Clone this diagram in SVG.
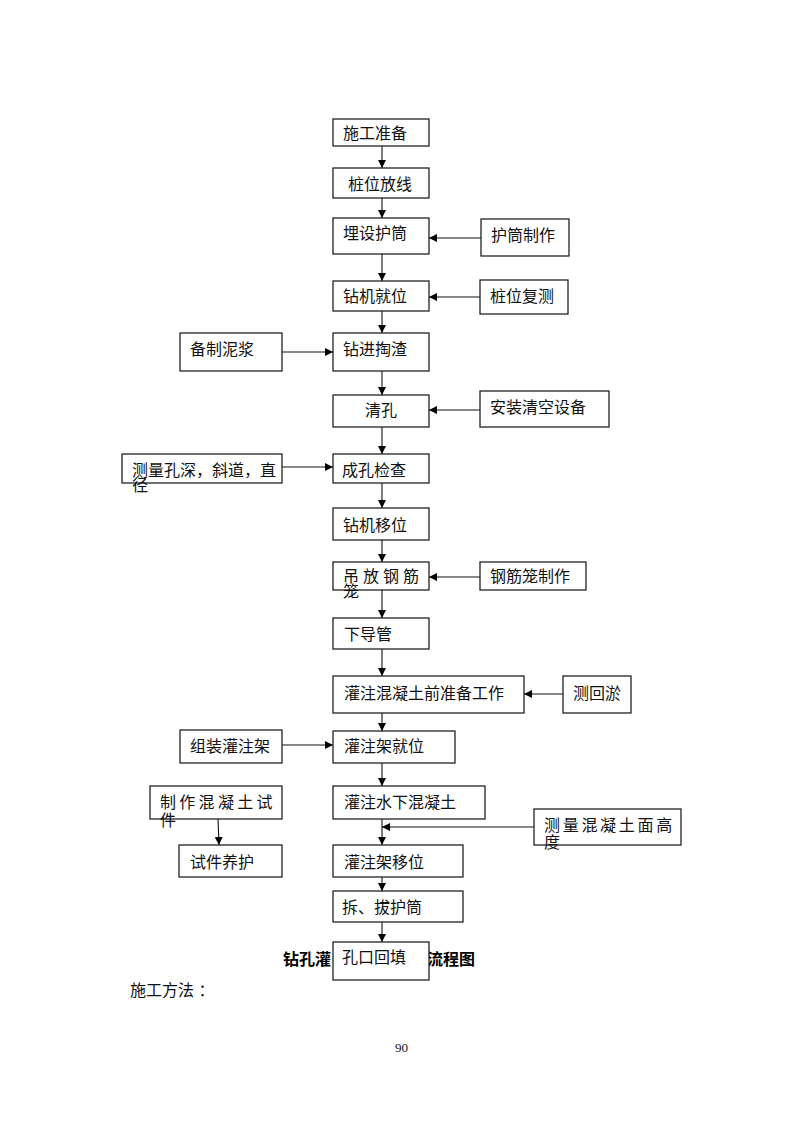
<svg xmlns="http://www.w3.org/2000/svg" width="800" height="1132" viewBox="0 0 800 1132">
<style>
.b{fill:#fff;stroke:#222;stroke-width:1.3}
.t{font-family:"Liberation Sans","Noto Sans CJK SC",sans-serif;font-size:16px;fill:#111}
.c{stroke:#111;stroke-width:1.1;fill:none;marker-end:url(#ah)}
.title{font-family:"Liberation Sans","Noto Sans CJK SC",sans-serif;font-size:16px;font-weight:bold;fill:#000}
</style>
<defs>
<marker id="ah" markerUnits="userSpaceOnUse" markerWidth="8" markerHeight="8" refX="8" refY="4" orient="auto">
<path d="M0,0 L8,4 L0,8 z" fill="#000"/>
</marker>
</defs>
<rect width="800" height="1132" fill="#fff"/>
<text class="title" x="283" y="965">钻孔灌</text>
<text class="title" x="427" y="965">流程图</text>
<text class="t" x="130" y="996">施工方法 ：</text>
<text x="395" y="1052" font-family="Liberation Serif,serif" font-size="13" fill="#111">90</text>
<g id="connectors">
<line class="c" x1="382" y1="146" x2="382" y2="168"/>
<line class="c" x1="382" y1="198" x2="382" y2="218"/>
<line class="c" x1="382" y1="254" x2="382" y2="281"/>
<line class="c" x1="382" y1="311" x2="382" y2="333"/>
<line class="c" x1="382" y1="371" x2="382" y2="395"/>
<line class="c" x1="382" y1="427" x2="382" y2="454"/>
<line class="c" x1="382" y1="483" x2="382" y2="508"/>
<line class="c" x1="382" y1="540" x2="382" y2="562"/>
<line class="c" x1="382" y1="590" x2="382" y2="618"/>
<line class="c" x1="382" y1="649" x2="382" y2="676"/>
<line class="c" x1="382" y1="713" x2="382" y2="731"/>
<line class="c" x1="382" y1="763" x2="382" y2="786"/>
<line class="c" x1="382" y1="819" x2="382" y2="845"/>
<line class="c" x1="382" y1="877" x2="382" y2="891"/>
<line class="c" x1="382" y1="922" x2="382" y2="942"/>
<line class="c" x1="481" y1="238" x2="429" y2="238"/>
<line class="c" x1="480" y1="297" x2="429" y2="297"/>
<line class="c" x1="282" y1="352" x2="333" y2="352"/>
<line class="c" x1="480" y1="410" x2="429" y2="410"/>
<line class="c" x1="282" y1="467" x2="333" y2="467"/>
<line class="c" x1="480" y1="577" x2="429" y2="577"/>
<line class="c" x1="563" y1="694" x2="524" y2="694"/>
<line class="c" x1="282" y1="745" x2="333" y2="745"/>
<line class="c" x1="218" y1="819" x2="219" y2="845"/>
<line class="c" x1="534" y1="827" x2="382" y2="827"/>
</g>
<g id="n1"><rect class="b" x="333" y="119" width="96" height="27"/><text class="t" x="343" y="139">施工准备</text></g>
<g id="n2"><rect class="b" x="333" y="168" width="96" height="30"/><text class="t" x="348" y="190">桩位放线</text></g>
<g id="n3"><rect class="b" x="333" y="218" width="96" height="36"/><text class="t" x="343" y="239">埋设护筒</text></g>
<g id="n4"><rect class="b" x="481" y="219" width="88" height="37"/><text class="t" x="491" y="241">护筒制作</text></g>
<g id="n5"><rect class="b" x="333" y="281" width="96" height="30"/><text class="t" x="343" y="302">钻机就位</text></g>
<g id="n6"><rect class="b" x="480" y="280" width="88" height="34"/><text class="t" x="490" y="302">桩位复测</text></g>
<g id="n7"><rect class="b" x="333" y="333" width="96" height="38"/><text class="t" x="343" y="355">钻进掏渣</text></g>
<g id="n8"><rect class="b" x="180" y="333" width="102" height="38"/><text class="t" x="190" y="355">备制泥浆</text></g>
<g id="n9"><rect class="b" x="333" y="395" width="96" height="32"/><text class="t" x="365" y="416">清孔</text></g>
<g id="n10"><rect class="b" x="480" y="391" width="129" height="36"/><text class="t" x="490" y="413">安装清空设备</text></g>
<g id="n11"><rect class="b" x="333" y="454" width="96" height="29"/><text class="t" x="342" y="476">成孔检查</text></g>
<g id="n12"><rect class="b" x="122" y="454" width="160" height="29"/><text class="t" x="132" y="476">测量孔深，斜道，直</text><text class="t" x="132" y="491">径</text></g>
<g id="n13"><rect class="b" x="333" y="508" width="96" height="32"/><text class="t" x="343" y="531">钻机移位</text></g>
<g id="n14"><rect class="b" x="333" y="562" width="96" height="28"/><text class="t" x="343" y="582" letter-spacing="4">吊放钢筋</text><text class="t" x="343" y="597">笼</text></g>
<g id="n15"><rect class="b" x="480" y="562" width="106" height="28"/><text class="t" x="490" y="582">钢筋笼制作</text></g>
<g id="n16"><rect class="b" x="333" y="618" width="96" height="31"/><text class="t" x="344" y="640">下导管</text></g>
<g id="n17"><rect class="b" x="333" y="676" width="191" height="37"/><text class="t" x="344" y="699">灌注混凝土前准备工作</text></g>
<g id="n18"><rect class="b" x="563" y="676" width="68" height="37"/><text class="t" x="573" y="699">测回淤</text></g>
<g id="n19"><rect class="b" x="333" y="731" width="122" height="32"/><text class="t" x="344" y="752">灌注架就位</text></g>
<g id="n20"><rect class="b" x="180" y="730" width="102" height="33"/><text class="t" x="190" y="752">组装灌注架</text></g>
<g id="n21"><rect class="b" x="333" y="786" width="152" height="33"/><text class="t" x="344" y="808">灌注水下混凝土</text></g>
<g id="n22"><rect class="b" x="150" y="786" width="132" height="33"/><text class="t" x="160" y="808" letter-spacing="3.3">制作混凝土试</text><text class="t" x="160" y="826">件</text></g>
<g id="n23"><rect class="b" x="179" y="845" width="103" height="32"/><text class="t" x="190" y="868">试件养护</text></g>
<g id="n24"><rect class="b" x="333" y="845" width="130" height="32"/><text class="t" x="344" y="868">灌注架移位</text></g>
<g id="n25"><rect class="b" x="534" y="809" width="147" height="36"/><text class="t" x="544" y="831" letter-spacing="2.7">测量混凝土面高</text><text class="t" x="544" y="848">度</text></g>
<g id="n26"><rect class="b" x="333" y="891" width="130" height="31"/><text class="t" x="342" y="913">拆、拔护筒</text></g>
<g id="n27"><rect class="b" x="333" y="942" width="96" height="38"/><text class="t" x="342" y="963">孔口回填</text></g>
</svg>
